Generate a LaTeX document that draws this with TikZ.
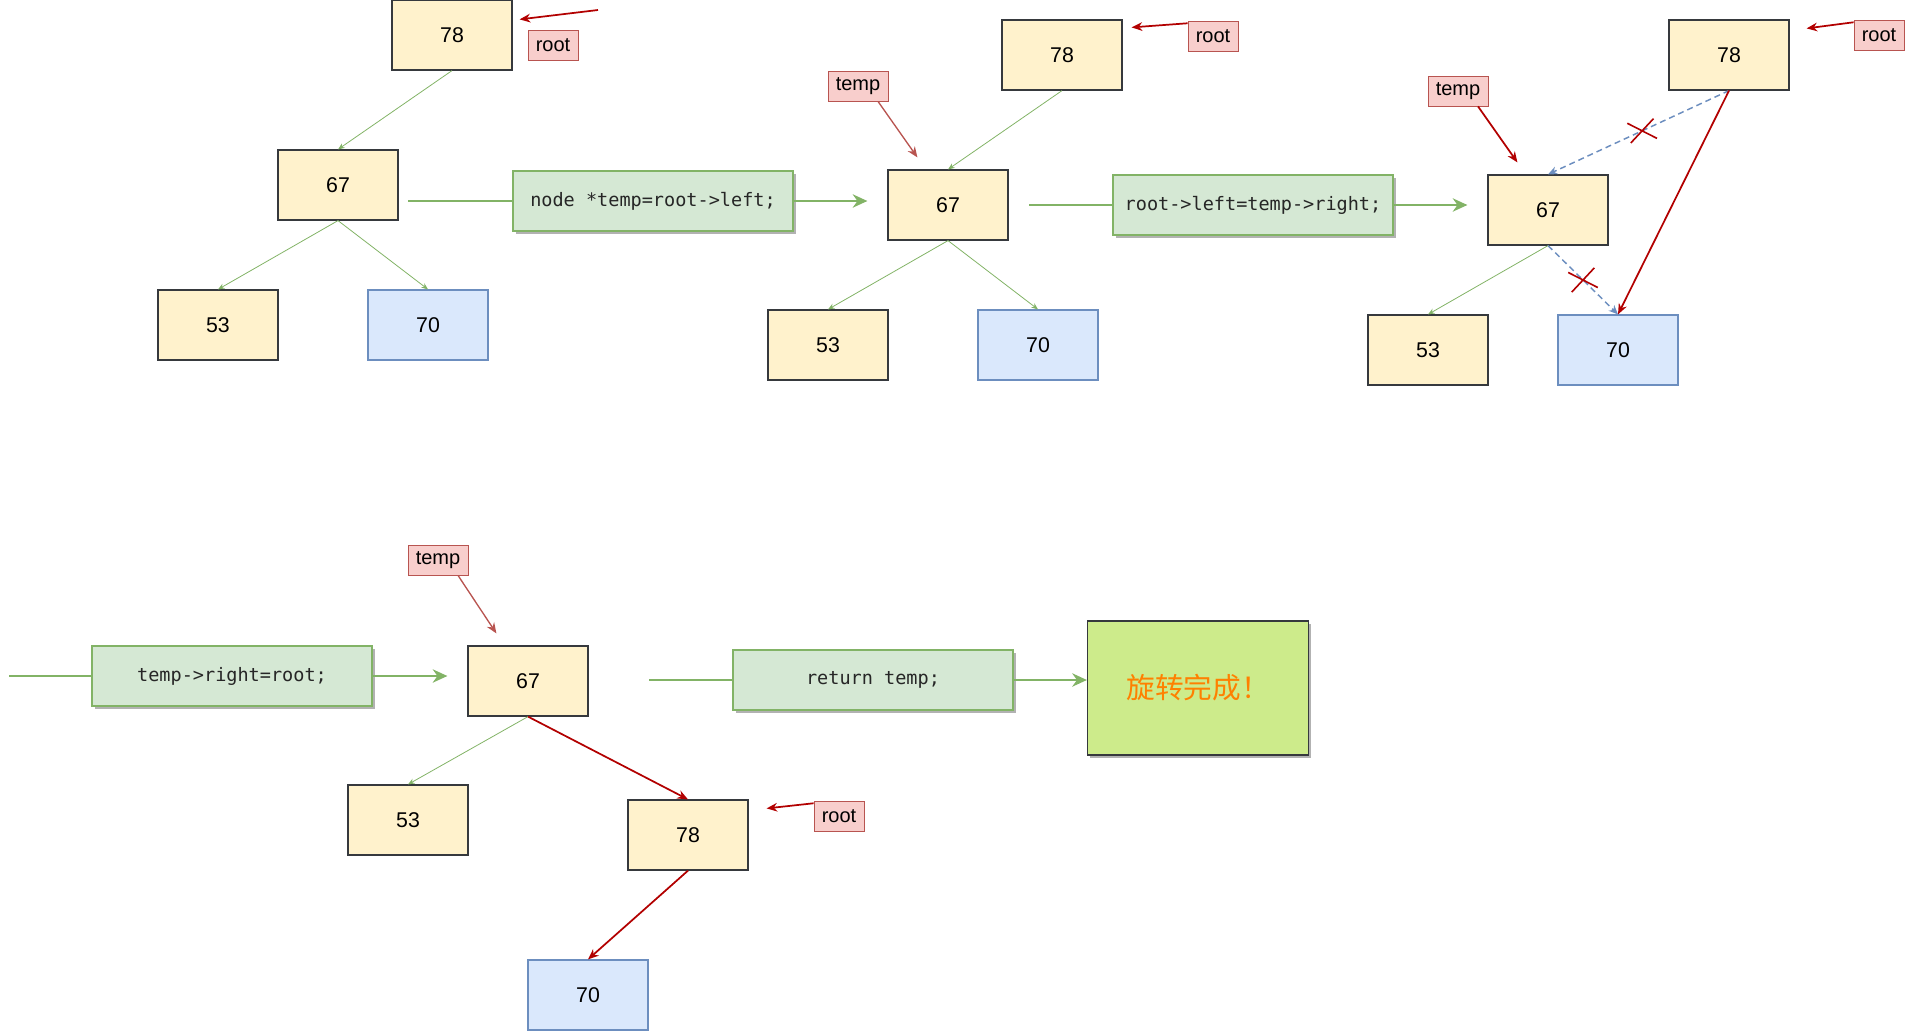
\documentclass[tikz,border=0pt]{standalone}
\usepackage{fontspec}
\setmainfont{Liberation Sans}
\setmonofont{DejaVu Sans Mono}
\newfontfamily\cjkfont{Noto Sans CJK SC}
\usetikzlibrary{arrows.meta,shadows,shapes.misc}

\definecolor{keyfill}{HTML}{FFF2CC}
\definecolor{keyline}{HTML}{36393D}
\definecolor{leaffill}{HTML}{DAE8FC}
\definecolor{leafline}{HTML}{6C8EBF}
\definecolor{ptrfill}{HTML}{F8CECC}
\definecolor{ptrline}{HTML}{B85450}
\definecolor{codefill}{HTML}{D5E8D4}
\definecolor{codeline}{HTML}{82B366}
\definecolor{darkred}{HTML}{B20000}
\definecolor{donefill}{HTML}{CDEB8B}
\definecolor{doneink}{HTML}{FF8000}

\begin{document}
\begin{tikzpicture}[
  x=0.75pt, y=-0.75pt, >=Stealth,
  key/.style={rectangle, draw=keyline, line width=0.9pt, fill=keyfill,
              minimum width=90pt, minimum height=52.5pt, inner sep=0pt,
              font=\fontsize{16}{19}\selectfont},
  leaf/.style={key, draw=leafline, fill=leaffill},
  ptr/.style={rectangle, draw=ptrline, fill=ptrfill, line width=0.6pt,
              minimum width=37.5pt, minimum height=22.5pt, inner sep=1pt,
              font=\fontsize{15}{18}\selectfont},
  code/.style={rectangle, draw=codeline, fill=codefill, line width=0.9pt,
               minimum width=210pt, minimum height=45pt, text=black!85,
               font=\ttfamily\fontsize{13.9}{16}\selectfont,
               drop shadow={shadow xshift=2pt, shadow yshift=-2pt, opacity=0.3, fill=black}},
  done/.style={rectangle, draw=keyline, fill=donefill, line width=0.9pt,
               minimum width=165.75pt, minimum height=100.5pt, text=doneink,
               font=\cjkfont\fontsize{21.5}{25}\selectfont,
               drop shadow={shadow xshift=2pt, shadow yshift=-2pt, opacity=0.3, fill=black}},
  edge/.style={draw=codeline, line width=0.6pt, -{Stealth[length=5pt,width=4pt]}},
  flow/.style={draw=codeline, line width=1.9pt},
  flowto/.style={flow, shorten >=15pt, -{Stealth[length=11pt,width=10pt]}},
  ptrto/.style={draw=darkred, line width=1.3pt, -{Stealth[length=8pt,width=6.5pt]}},
  softptr/.style={ptrto, draw=ptrline, line width=1pt},
  moved/.style={draw=leafline, line width=1.1pt, dash pattern=on 4.5pt off 3pt,
                -{Stealth[length=7pt,width=6pt]}},
  cut/.style={cross out, draw=darkred, solid, line width=1.2pt, rotate=10,
              minimum width=18.7pt, minimum height=13.8pt, inner sep=0pt}
]
\useasboundingbox (0,0) rectangle (1905,1031);

% tree before the rotation
\node[key] (a78) at (452,35) {78};
\node[ptr] (aroot) at (553,45) {root};
\node[key] (a67) at (338,185) {67};
\node[key] (a53) at (218,325) {53};
\node[leaf] (a70) at (428,325) {70};
\node[code] (c1) at (653,201) {node *temp=root->left;};
\coordinate (aptr) at (598,10);
\coordinate (in1) at (408,201);

\draw[ptrto] (aptr) -- ([shift={(7,20)}]a78.north east);
\draw[edge] (a78.south) -- (a67.north);
\draw[edge] (a67.south) -- (a53.north);
\draw[edge] (a67.south) -- (a70.north);
\draw[flow] (in1) -- (c1.west);

% temp points at the left child
\node[key] (b78) at (1062,55) {78};
\node[ptr] (broot) at (1213,36) {root};
\node[ptr, minimum width=45pt] (btemp) at (858,86) {temp};
\node[key] (b67) at (948,205) {67};
\node[key] (b53) at (828,345) {53};
\node[leaf] (b70) at (1038,345) {70};
\node[code] (c2) at (1253,205) {root->left=temp->right;};
\coordinate (in2) at (1029,205);

\draw[flowto] (c1.east) -- (c1.east -| b67.west);
\draw[ptrto] ([yshift=-2pt]broot.north west) -- ([shift={(9,8)}]b78.north east);
\draw[softptr] ([xshift=15pt]btemp.south) -- ([shift={(30,-12)}]b67.north west);
\draw[edge] (b78.south) -- (b67.north);
\draw[edge] (b67.south) -- (b53.north);
\draw[edge] (b67.south) -- (b70.north);
\draw[flow] (in2) -- (c2.west);

% 70 moves under 78
\node[key] (c78) at (1729,55) {78};
\node[ptr] (croot) at (1879,35) {root};
\node[ptr, minimum width=45pt] (ctemp) at (1458,91) {temp};
\node[key] (c67) at (1548,210) {67};
\node[key] (c53) at (1428,350) {53};
\node[leaf] (c70) at (1618,350) {70};

\draw[flowto] (c2.east) -- (c2.east -| c67.west);
\draw[ptrto] ([yshift=-2pt]croot.north west) -- ([shift={(17,9)}]c78.north east);
\draw[ptrto] ([xshift=15pt]ctemp.south) -- ([shift={(30,-12)}]c67.north west);
\draw[moved] (c78.south) -- node[cut, pos=0.48] (x1) {} (c67.north);
\draw[moved] (c67.south) -- node[cut, pos=0.5] (x2) {} (c70.north);
\draw[ptrto] (c78.south) -- (c70.north);
\draw[edge] (c67.south) -- (c53.north);

% 78 hangs under 67
\node[code] (c3) at (232,676) {temp->right=root;};
\coordinate (in3) at (9,676);
\node[key] (d67) at (528,681) {67};
\node[ptr, minimum width=45pt] (dtemp) at (438,560) {temp};
\node[key] (d53) at (408,820) {53};
\node[key] (d78) at (688,835) {78};
\node[ptr] (droot) at (839,816) {root};
\node[leaf] (d70) at (588,995) {70};
\node[code] (c4) at (873,680) {return temp;};
\coordinate (in4) at (649,680);
\node[done] (fin) at (1198,688) {旋转完成！};

\draw[flow] (in3) -- (c3.west);
\draw[flowto] (c3.east) -- (c3.east -| d67.west);
\draw[softptr] ([xshift=15pt]dtemp.south) -- ([shift={(29,-12)}]d67.north west);
\draw[ptrto] ([yshift=-2pt]droot.north west) -- ([shift={(18,9)}]d78.north east);
\draw[edge] (d67.south) -- (d53.north);
\draw[ptrto] (d67.south) -- (d78.north);
\draw[ptrto] (d78.south) -- (d70.north);
\draw[flow] (in4) -- (c4.west);
\draw[flowto, shorten >=0pt] (c4.east) -- (c4.east -| fin.west);

\end{tikzpicture}
\end{document}
